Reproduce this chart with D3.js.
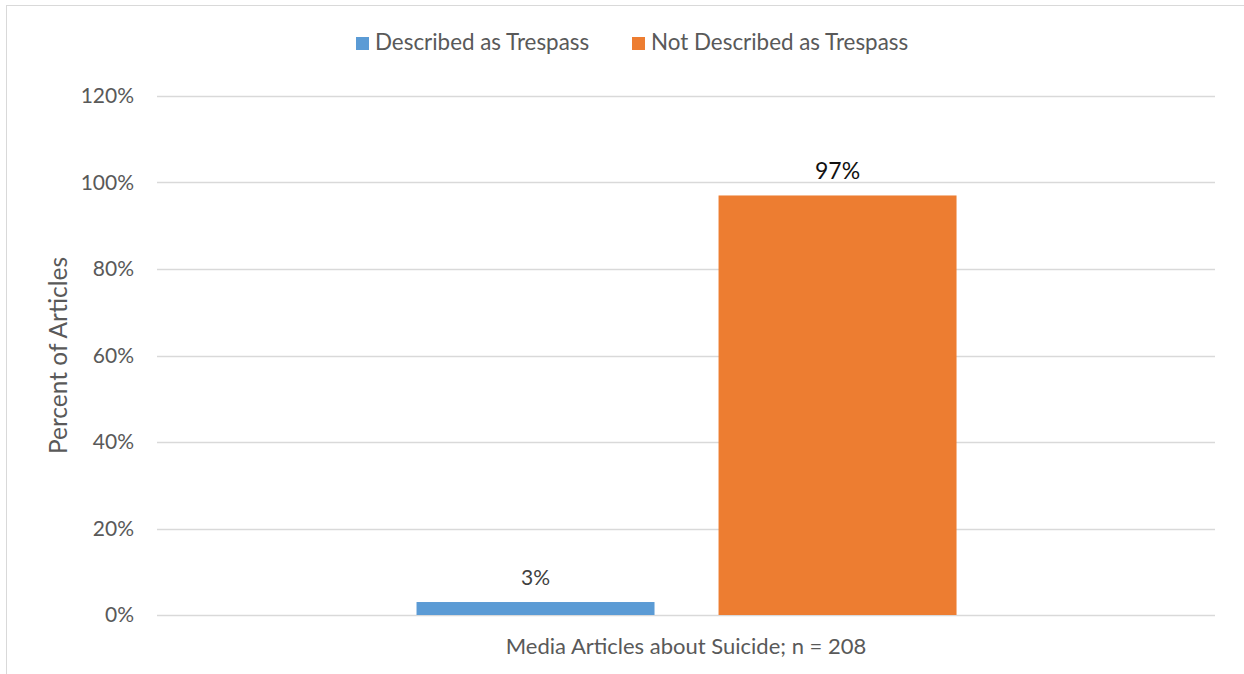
<!DOCTYPE html>
<html>
<head>
<meta charset="utf-8">
<script src="https://cdn.jsdelivr.net/npm/d3@7"></script>
<style>
  body { margin: 0; background: #fff; }
  svg { display: block; }
  svg text { font-family: Lato, sans-serif; }
</style>
</head>
<body>
<div id="chart"></div>
<script>
'use strict';

// chart values
const categories = ['Media Articles about Suicide; n = 208'];
const seriesNames = ['Described as Trespass', 'Not Described as Trespass'];
const seriesValues = [3, 97];
const seriesColors = ['#5b9bd5', '#ed7d31'];
const yTicks = [0, 20, 40, 60, 80, 100, 120];

let width = 1244, height = 674;
let margin = { top: 96, right: 29, bottom: 59, left: 157 };

let svg = d3.select('#chart').append('svg')
    .attr('width', width)
    .attr('height', height);

// outer frame of the chart
svg.append('rect')
    .attr('x', 6.5).attr('y', 5.5)
    .attr('width', width).attr('height', height)
    .attr('fill', 'none')
    .attr('stroke', '#d9d9d9');

let innerW = width - margin.left - margin.right;
let innerH = height - margin.top - margin.bottom;

let g = svg.append('g')
    .attr('transform', 'translate(' + margin.left + ',' + margin.top + ')');

let y = d3.scaleLinear().domain([0, 120]).range([innerH, 0]);
let x0 = d3.scaleBand().domain(categories).range([0, innerW]);
// inner band for the two series inside the category
let x1 = d3.scaleBand().domain(seriesNames)
    .range([x0.bandwidth() * 0.2453, x0.bandwidth() * 0.7557])
    .paddingInner(0.212);

// gridlines
g.append('g')
    .selectAll('line')
    .data(yTicks)
    .join('line')
    .attr('x1', 0).attr('x2', innerW)
    .attr('y1', d => Math.round(y(d)) + 0.5)
    .attr('y2', d => Math.round(y(d)) + 0.5)
    .attr('stroke', '#d9d9d9')
    .attr('stroke-width', 1.3);

// y axis labels
let yAxis = d3.axisLeft(y).tickValues(yTicks).tickSize(0).tickPadding(23)
    .tickFormat(d => d + '%');
let gy = g.append('g').call(yAxis);
gy.select('.domain').remove();
gy.attr('font-family', null);
gy.selectAll('text')
    .attr('fill', '#595959')
    .style('font-size', '21px');

// bars
g.append('g')
    .selectAll('rect')
    .data(seriesValues)
    .join('rect')
    .attr('x', (d, i) => x0(categories[0]) + x1(seriesNames[i]))
    .attr('y', d => y(d))
    .attr('width', x1.bandwidth())
    .attr('height', d => innerH - y(d))
    .attr('fill', (d, i) => seriesColors[i]);

// value labels
g.append('g')
    .selectAll('text')
    .data(seriesValues)
    .join('text')
    .attr('x', (d, i) => x0(categories[0]) + x1(seriesNames[i]) + x1.bandwidth() / 2)
    .attr('y', (d, i) => y(d) - (i === 1 ? 16 : 17))
    .attr('text-anchor', 'middle')
    .attr('fill', (d, i) => i === 1 ? '#111' : '#404040')
    .style('font-size', (d, i) => i === 1 ? '23px' : '21px')
    .text(d => d + '%');

// x axis category label
let xAxis = d3.axisBottom(x0).tickSize(0).tickPadding(23);
let gx = g.append('g')
    .attr('transform', 'translate(0,' + innerH + ')')
    .call(xAxis);
gx.select('.domain').remove();
gx.attr('font-family', null);
gx.selectAll('text')
    .attr('fill', '#595959')
    .style('font-size', '22px');

// y axis title
svg.append('text')
    .attr('transform', 'translate(67,' + (margin.top + innerH / 2) + ') rotate(-90)')
    .attr('text-anchor', 'middle')
    .attr('fill', '#595959')
    .style('font-size', '24.5px')
    .text('Percent of Articles');

// legend
let legend = svg.append('g');
let legendX = [356, 632];
seriesNames.forEach(function(name, i) {
    let lg = legend.append('g')
        .attr('transform', 'translate(' + legendX[i] + ',37)');
    lg.append('rect')
        .attr('width', 13).attr('height', 13)
        .attr('fill', seriesColors[i]);
    lg.append('text')
        .attr('x', 19).attr('y', 13)
        .attr('fill', '#595959')
        .style('font-size', '22.4px')
        .text(name);
});
</script>
</body>
</html>
